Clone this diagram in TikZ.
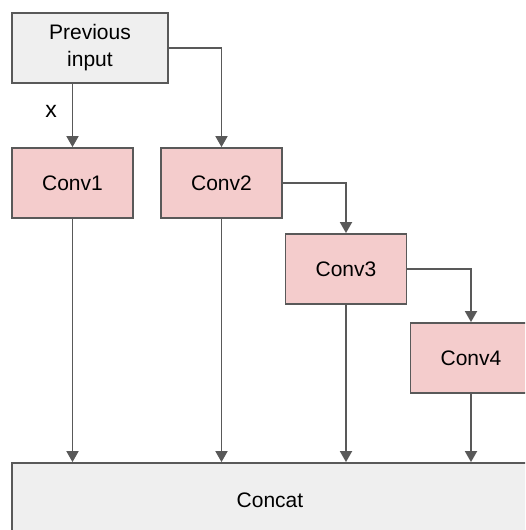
\documentclass[tikz,border=0pt]{standalone}
\usepackage{fontspec}
\setmainfont{Liberation Sans}
\usetikzlibrary{arrows.meta}
\definecolor{edge}{HTML}{595959}
\definecolor{greyfill}{HTML}{EFEFEF}
\definecolor{pinkfill}{HTML}{F4CCCC}
\begin{document}
\begin{tikzpicture}[x=1pt, y=-1pt,
  box/.style={draw=edge, line width=1.8pt, inner sep=0pt, align=center,
    font=\fontsize{21}{27}\selectfont, text=black},
  greybox/.style={box, fill=greyfill},
  convbox/.style={box, fill=pinkfill, minimum width=121pt, minimum height=70pt},
  link/.style={draw=edge, line width=1.8pt, -{Triangle[width=12pt,length=11pt]}}]
\useasboundingbox (0,0) rectangle (525,530);
\clip (0,0) rectangle (525,530);
\fill[white] (0,0) rectangle (525,530);

% blocks
\node[greybox, minimum width=156pt, minimum height=70pt] (prev) at (90,48) {Previous\\input};
\node[convbox] (c1) at (72.5,183) {Conv1};
\node[convbox] (c2) at (221.5,183) {Conv2};
\node[convbox] (c3) at (346,269) {Conv3};
\node[convbox] (c4) at (471,358) {Conv4};
\node[greybox, minimum width=516pt, minimum height=74pt] (concat) at (270,500) {Concat};
\node[font=\fontsize{23}{27}\selectfont] (xlab) at (51,111) {x};

% input branches
\draw[link] (c1.north |- prev.south) -- (c1.north);
\draw[link] (prev.east) -| (c2.north);
\draw[link] (c2.east) -| (c3.north);
\draw[link] (c3.east) -| (c4.north);

% outputs into the concatenation
\foreach \n in {c1,c2,c3,c4}
  \draw[link] (\n.south) -- (\n.south |- concat.north);
\end{tikzpicture}
\end{document}
